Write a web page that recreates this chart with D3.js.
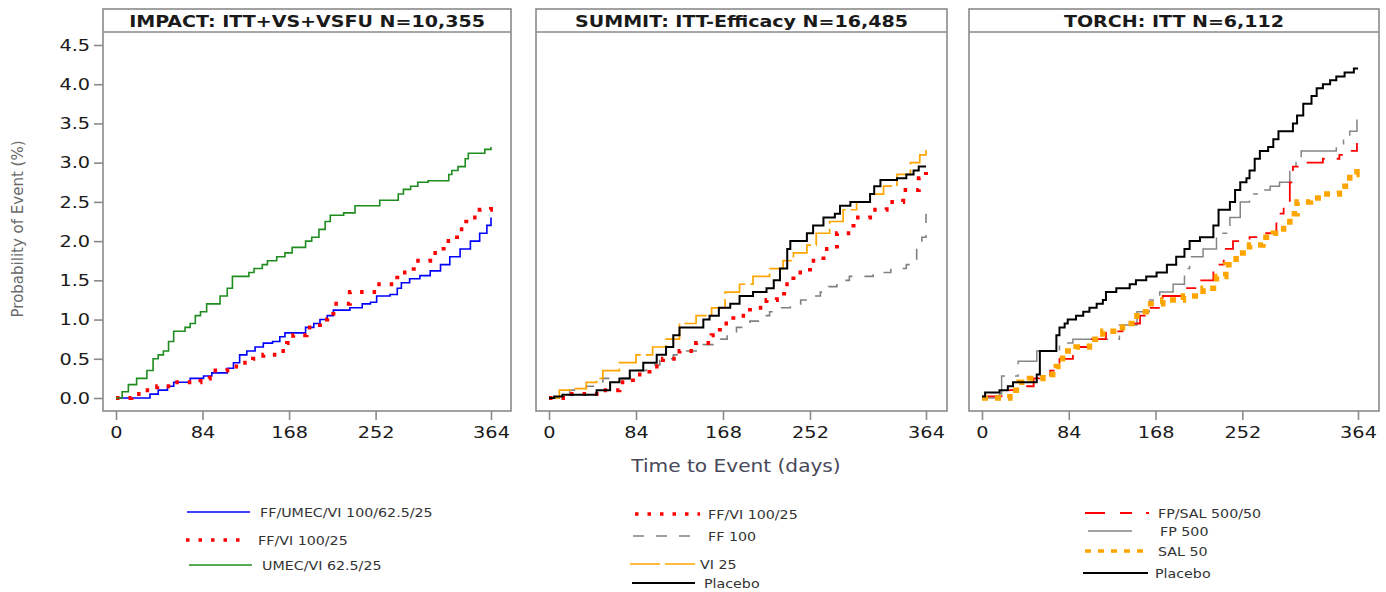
<!DOCTYPE html>
<html><head><meta charset="utf-8">
<script src="https://cdn.jsdelivr.net/npm/d3@7"></script>
<style>
body{margin:0;background:#fff;}
svg{display:block;}
text{font-family:"DejaVu Sans",sans-serif;}
</style>
</head><body>
<svg id="c" width="1386" height="592"></svg>
<script>
// ---------------- DATA ----------------
const panelTitles = ["IMPACT: ITT+VS+VSFU N=10,355", "SUMMIT: ITT-Efficacy N=16,485", "TORCH: ITT N=6,112"];
const xTickValues = [0, 84, 168, 252, 364];
const yTickValues = [0, 0.5, 1.0, 1.5, 2.0, 2.5, 3.0, 3.5, 4.0, 4.5];
const xAxisTitle = "Time to Event (days)";
const yAxisTitle = "Probability of Event (%)";

// IMPACT
const impactTripleDays = [0,33,41,50,56,72,85,93,108,114,120,127,135,143,152,159,164,184,192,198,205,211,227,239,247,253,266,273,277,285,295,305,315,324,334,344,353,360,364];
const impactTripleProb = [0,0.05,0.1,0.15,0.2,0.25,0.28,0.32,0.38,0.45,0.55,0.6,0.65,0.7,0.72,0.78,0.83,0.9,0.95,1.0,1.05,1.12,1.15,1.2,1.22,1.3,1.32,1.4,1.47,1.52,1.56,1.62,1.7,1.8,1.9,2.0,2.1,2.2,2.3];
const impactFFVIDays = [0,15,27,40,54,82,91,108,120,133,143,156,166,172,185,198,205,211,227,253,273,289,305,318,331,340,353,364];
const impactFFVIProb = [0,0.05,0.1,0.15,0.2,0.25,0.35,0.4,0.45,0.5,0.55,0.6,0.7,0.8,0.9,1.0,1.05,1.2,1.35,1.45,1.6,1.75,1.85,2.0,2.15,2.3,2.4,2.45];
const impactUMECVIDays = [0,6,12,20,30,36,41,46,51,56,67,72,77,82,88,101,108,113,129,134,142,147,156,164,171,184,190,197,203,208,221,232,256,274,279,286,293,303,323,326,332,339,342,358,364];
const impactUMECVIProb = [0,0.08,0.17,0.25,0.35,0.5,0.55,0.6,0.72,0.85,0.9,0.95,1.05,1.1,1.2,1.3,1.4,1.55,1.6,1.65,1.7,1.75,1.8,1.85,1.92,2.0,2.05,2.15,2.25,2.33,2.36,2.45,2.52,2.6,2.66,2.7,2.75,2.77,2.85,2.9,2.95,3.05,3.12,3.17,3.2];

// SUMMIT
const summitFFVIDays = [0,17,52,68,81,97,110,126,142,157,165,178,194,210,220,227,236,252,265,278,294,310,326,342,357,364];
const summitFFVIProb = [0,0.05,0.1,0.2,0.3,0.4,0.5,0.6,0.7,0.8,0.95,1.05,1.15,1.25,1.3,1.45,1.6,1.75,1.9,2.1,2.3,2.4,2.5,2.65,2.8,2.88];
const summitFFDays = [0,20,36,52,78,94,107,120,133,149,162,172,181,194,204,213,223,233,243,252,262,270,278,290,313,330,345,355,360,364];
const summitFFProb = [0,0.1,0.15,0.25,0.35,0.42,0.5,0.55,0.6,0.68,0.75,0.82,0.9,0.98,1.05,1.1,1.15,1.2,1.25,1.3,1.35,1.42,1.5,1.55,1.6,1.65,1.7,1.95,2.05,2.35];
const summitVIDays = [0,10,23,36,46,52,68,84,100,113,126,142,157,170,184,197,213,226,236,249,258,271,284,297,310,323,336,349,358,364];
const summitVIProb = [0,0.1,0.12,0.2,0.25,0.35,0.45,0.55,0.65,0.75,0.95,1.05,1.15,1.35,1.45,1.55,1.65,1.75,1.85,1.95,2.1,2.25,2.4,2.5,2.6,2.7,2.85,3.0,3.1,3.2];
const summitPlaceboDays = [0,5,13,46,59,68,78,91,104,113,120,126,149,155,164,175,184,197,210,217,223,230,233,249,255,265,276,281,291,310,314,320,336,345,352,357,364];
const summitPlaceboProb = [0,0.02,0.04,0.1,0.2,0.25,0.35,0.45,0.55,0.65,0.8,0.9,1.0,1.05,1.15,1.2,1.3,1.35,1.4,1.5,1.65,1.9,2.0,2.1,2.2,2.3,2.35,2.45,2.5,2.6,2.7,2.78,2.8,2.85,2.9,2.95,2.95];

// TORCH
const torchFPSALDays = [0,3,24,33,50,66,75,88,104,120,136,153,162,175,195,210,224,234,243,259,272,285,292,298,301,311,330,346,353,363];
const torchFPSALProb = [0,0.02,0.1,0.15,0.25,0.35,0.5,0.65,0.75,0.85,0.95,1.05,1.15,1.3,1.4,1.5,1.7,1.9,2.0,2.05,2.1,2.35,2.5,2.75,2.95,3.0,3.05,3.1,3.15,3.25];
const torchFPDays = [0,17,19,35,53,75,88,133,150,162,172,185,196,201,214,227,240,250,259,269,279,288,298,304,309,343,350,356,363];
const torchFPProb = [0,0.05,0.28,0.47,0.6,0.7,0.75,0.93,1.1,1.25,1.35,1.45,1.65,1.8,1.9,2.1,2.3,2.5,2.6,2.65,2.7,2.75,2.9,3.0,3.15,3.2,3.3,3.4,3.55];
const torchSALDays = [0,27,36,46,59,72,78,91,104,117,136,150,159,175,195,214,227,236,246,259,272,282,292,298,305,318,330,346,356,363];
const torchSALProb = [0,0.1,0.2,0.25,0.3,0.4,0.6,0.65,0.75,0.85,0.95,1.1,1.2,1.25,1.3,1.4,1.55,1.7,1.85,1.95,2.05,2.1,2.2,2.35,2.5,2.55,2.6,2.7,2.85,3.0];
const torchPlaceboDays = [0,3,17,25,30,53,56,72,75,80,83,91,98,104,111,117,120,130,143,149,159,169,179,188,196,201,211,224,229,240,245,250,256,259,264,269,277,282,287,301,305,311,319,324,330,337,343,351,360,364];
const torchPlaceboProb = [0.02,0.07,0.1,0.15,0.2,0.3,0.6,0.8,0.9,0.95,1.0,1.05,1.1,1.15,1.2,1.25,1.35,1.4,1.45,1.5,1.55,1.6,1.7,1.8,1.9,2.0,2.05,2.2,2.4,2.5,2.65,2.75,2.8,2.9,3.05,3.15,3.2,3.3,3.4,3.5,3.6,3.75,3.85,3.95,4.0,4.05,4.1,4.15,4.2,4.2];

const impactLabels = ["FF/UMEC/VI 100/62.5/25", "FF/VI 100/25", "UMEC/VI 62.5/25"];
const summitLabels = ["FF/VI 100/25", "FF 100", "VI 25", "Placebo"];
const torchLabels = ["FP/SAL 500/50", "FP 500", "SAL 50", "Placebo"];

// ---------------- STYLES / LAYOUT ----------------
const S = {
  blue:   {stroke:"#0000ff", w:1.6, dash:null},
  redDot: {stroke:"#ff0000", w:4, dash:"3.5,9"},
  green:  {stroke:"#1f8c1f", w:1.6, dash:null},
  grayDash:{stroke:"#808080", w:1.6, dash:"11,12"},
  orangeLong:{stroke:"#ffa500", w:1.7, dash:"30,5"},
  black:  {stroke:"#000000", w:2, dash:null},
  redDashDot:{stroke:"#ff0000", w:1.8, dash:"22,12,10,12"},
  grayLong:{stroke:"#858585", w:1.5, dash:"45,10,5,10"},
  orangeSq:{stroke:"#ffa500", w:5.5, dash:"6,7"}
};
const legendDash = {
  redDashDot:"20,15,12,14,3,20",
  grayLong:"44,10,5,10"
};

const panels = [
  {title:panelTitles[0], fL:103, fR:511, x0:116, x1:491, yAxis:true,
   series:[
     {d:impactTripleDays, p:impactTripleProb, s:S.blue},
     {d:impactFFVIDays, p:impactFFVIProb, s:S.redDot},
     {d:impactUMECVIDays, p:impactUMECVIProb, s:S.green}],
   legend:{labels:impactLabels, styles:[S.blue,S.redDot,S.green],
     rows:[[187,250,512,260],[186,248,540,258],[189,252,565,262]]}},
  {title:panelTitles[1], fL:536, fR:947, x0:549, x1:926, yAxis:false,
   series:[
     {d:summitFFDays, p:summitFFProb, s:S.grayDash},
     {d:summitVIDays, p:summitVIProb, s:S.orangeLong},
     {d:summitFFVIDays, p:summitFFVIProb, s:S.redDot},
     {d:summitPlaceboDays, p:summitPlaceboProb, s:S.black}],
   legend:{labels:summitLabels, styles:[S.redDot,S.grayDash,S.orangeLong,S.black],
     rows:[[635,700,514,708],[633,700,536,708],[630,698,564,700],[632,695,583,704]]}},
  {title:panelTitles[2], fL:969, fR:1379, x0:982, x1:1358, yAxis:false,
   series:[
     {d:torchFPDays, p:torchFPProb, s:S.grayLong},
     {d:torchFPSALDays, p:torchFPSALProb, s:S.redDashDot},
     {d:torchSALDays, p:torchSALProb, s:S.orangeSq},
     {d:torchPlaceboDays, p:torchPlaceboProb, s:S.black}],
   legend:{labels:torchLabels, styles:[Object.assign({},S.redDashDot,{dash:legendDash.redDashDot}),Object.assign({},S.grayLong,{dash:legendDash.grayLong}),S.orangeSq,S.black],
     rows:[[1085,1150,513,1158],[1088,1133,531,1160],[1085,1150,551,1158],[1083,1148,573,1155]]}}
];

const frameTop = 9, bandBottom = 32, frameBottom = 411;
const y = d3.scaleLinear().domain([0, 4.5]).range([398, 45]);
const frameColor = "#8a8a8a";
const stretch = 1.17;

const svg = d3.select("#c");
svg.append("rect").attr("width",1386).attr("height",592).attr("fill","#fff");

function applyStyle(sel, s){
  sel.attr("fill","none").attr("stroke", s.stroke).attr("stroke-width", s.w)
     .attr("stroke-dasharray", s.dash);
}

panels.forEach(P => {
  const x = d3.scaleLinear().domain([0, 364]).range([P.x0, P.x1]);
  const g = svg.append("g");

  // frame & title band
  g.append("rect").attr("x",P.fL).attr("y",frameTop).attr("width",P.fR-P.fL).attr("height",frameBottom-frameTop)
    .attr("fill","none").attr("stroke",frameColor).attr("stroke-width",1.6);
  g.append("line").attr("x1",P.fL).attr("x2",P.fR).attr("y1",bandBottom).attr("y2",bandBottom)
    .attr("stroke",frameColor).attr("stroke-width",1.6);
  g.append("g").attr("transform",`translate(${(P.fL+P.fR)/2},${frameTop+18}) scale(1.19,1)`)
    .append("text").attr("text-anchor","middle")
    .attr("font-size",16).attr("font-weight","bold").attr("fill","#1a1a1a").text(P.title);

  // x axis
  const xAxis = d3.axisBottom(x).tickValues(xTickValues).tickSize(9).tickPadding(6).tickFormat(d3.format("d"));
  const xa = g.append("g").attr("transform",`translate(0,${frameBottom})`).call(xAxis);
  xa.select(".domain").remove();
  xa.selectAll(".tick line").attr("stroke",frameColor).attr("stroke-width",1.6);
  xa.selectAll(".tick text").attr("font-size",16.5).attr("fill","#1a1a1a").attr("font-family","DejaVu Sans, sans-serif")
    .attr("transform",`scale(${stretch},1)`);

  if (P.yAxis){
    const yAxis = d3.axisLeft(y).tickValues(yTickValues).tickSize(9).tickPadding(2).tickFormat(d3.format(".1f"));
    const ya = g.append("g").attr("transform",`translate(${P.fL},0)`).call(yAxis);
    ya.select(".domain").remove();
    ya.selectAll(".tick line").attr("stroke",frameColor).attr("stroke-width",1.6);
    ya.selectAll(".tick text").attr("font-size",16.5).attr("fill","#1a1a1a").attr("font-family","DejaVu Sans, sans-serif")
      .attr("transform",`scale(${stretch},1)`);
  }

  // curves
  const line = d3.line().curve(d3.curveStepAfter).x(d => x(d[0])).y(d => y(d[1]));
  P.series.forEach(sr => {
    const pts = sr.d.map((dd,i) => [dd, sr.p[i]]);
    g.append("path").datum(pts).attr("d", line).call(applyStyle, sr.s)
      .attr("stroke-linejoin","miter");
  });

  // legend
  P.legend.labels.forEach((lab,i) => {
    const r = P.legend.rows[i];
    g.append("line").attr("x1",r[0]).attr("x2",r[1]).attr("y1",r[2]).attr("y2",r[2])
      .call(applyStyle, Object.assign({}, P.legend.styles[i], {w: Math.min(P.legend.styles[i].w, 3.5)}));
    g.append("g").attr("transform",`translate(${r[3]},${r[2]+4.5}) scale(1.14,1)`)
      .append("text").attr("font-size",12.5).attr("fill","#333").text(lab);
  });
});

// axis titles
svg.append("text").attr("transform","translate(23,229) rotate(-90)").attr("text-anchor","middle")
  .attr("font-size",15).attr("fill","#6a6a6a").text(yAxisTitle);
svg.append("g").attr("transform","translate(736,472) scale(1.15,1)")
  .append("text").attr("text-anchor","middle")
  .attr("font-size",17.5).attr("fill","#484858").text(xAxisTitle);
</script>
</body></html>
